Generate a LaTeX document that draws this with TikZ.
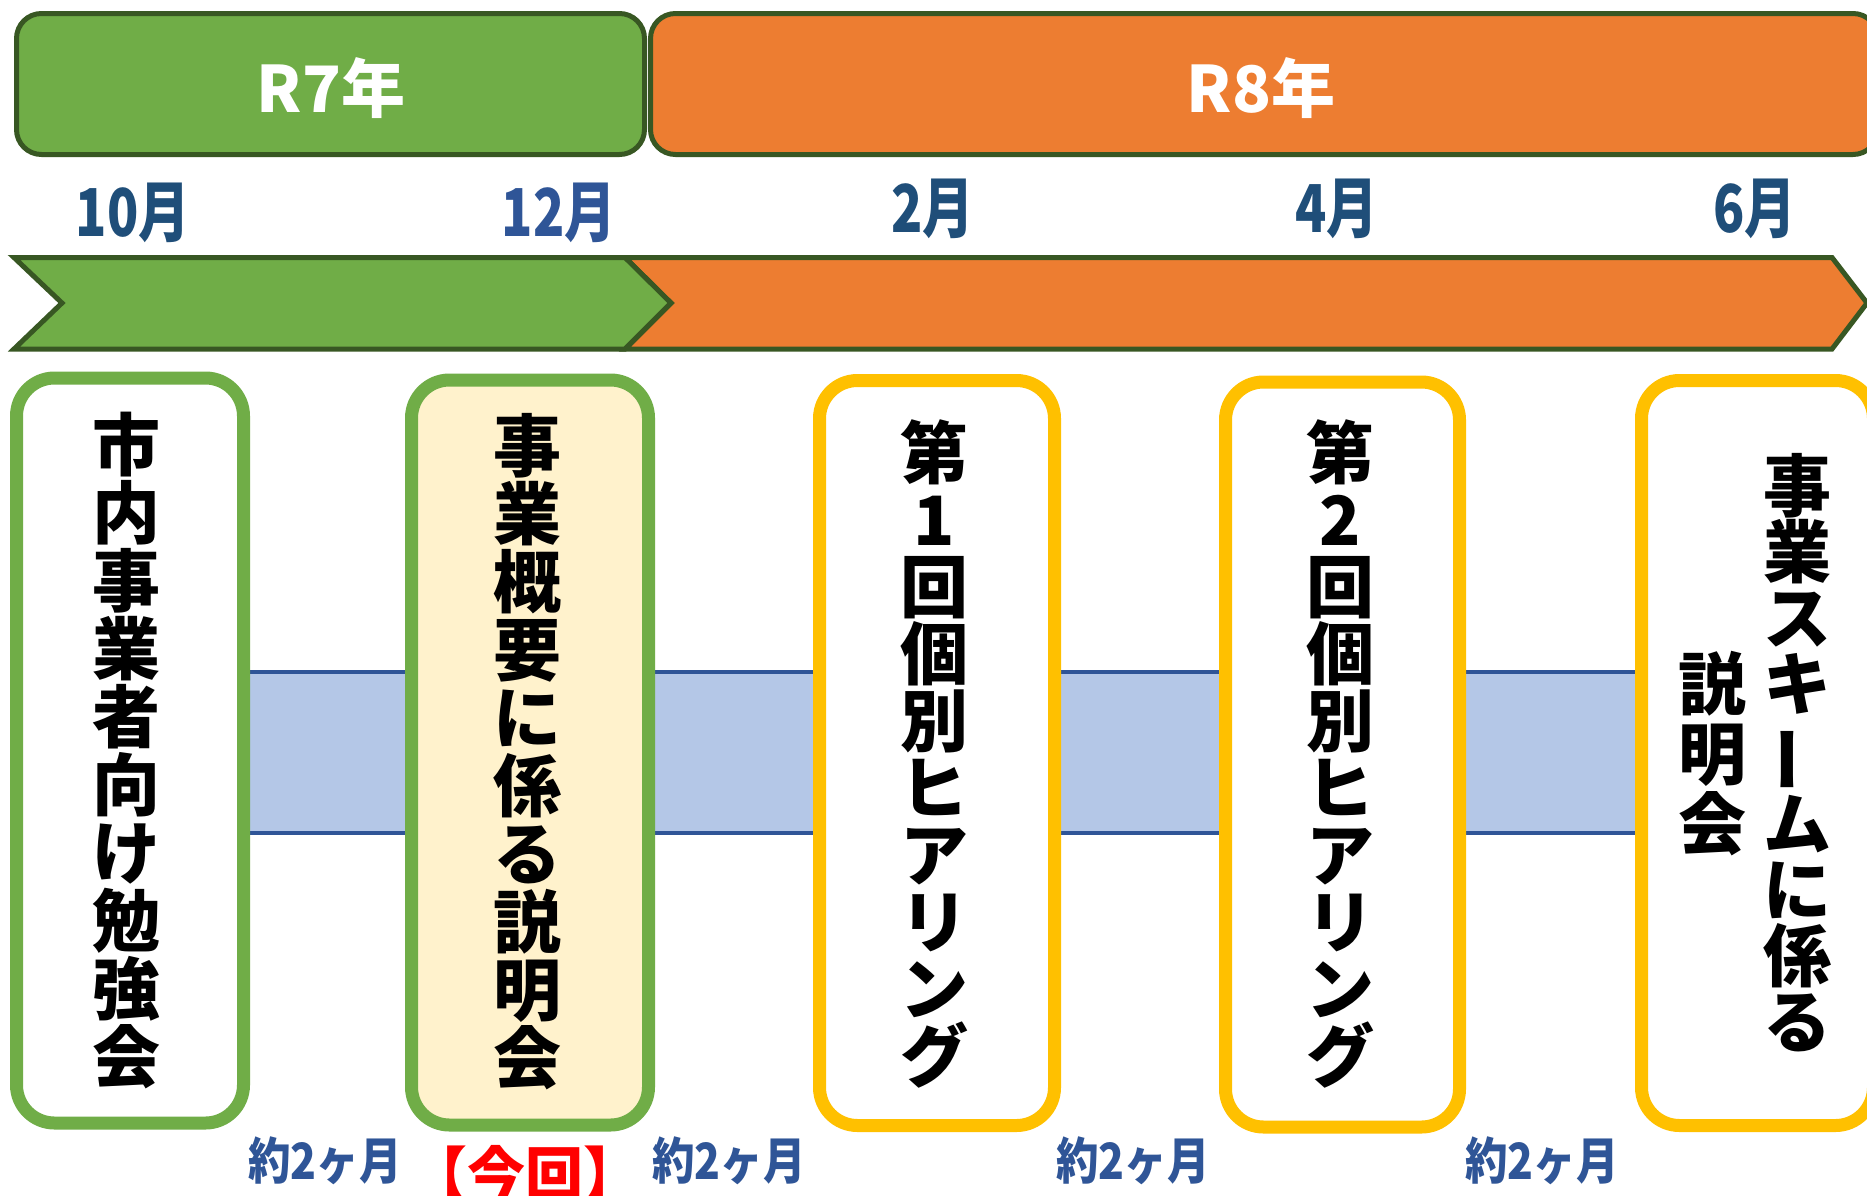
\documentclass[tikz,border=0pt]{standalone}
\usepackage{fontspec}
\usepackage{graphicx}
\setmainfont{Noto Sans CJK JP}
\newfontfamily\jpn{Noto Sans CJK JP}[FakeStretch=0.78]
\newfontfamily\jpg{Noto Sans CJK JP}[FakeStretch=0.85]
\definecolor{dkgreen}{HTML}{385723}
\definecolor{grn}{HTML}{70AD47}
\definecolor{orng}{HTML}{ED7D31}
\definecolor{ylw}{HTML}{FFC000}
\definecolor{cream}{HTML}{FFF2CC}
\definecolor{bandfill}{HTML}{B4C7E7}
\definecolor{midblue}{HTML}{2F5597}
\definecolor{navy}{HTML}{1F4E79}
\newcommand{\vbar}{\rotatebox[origin=c]{90}{ー}}
\begin{document}
\begin{tikzpicture}[x=0.5pt,y=-0.5pt,
  yearbar/.style={draw=dkgreen,line width=2.5pt,rounded corners=12.5pt,inner sep=0pt,minimum height=70.5pt},
  yeartext/.style={text=white,font=\bfseries\fontsize{32}{32}\selectfont,inner sep=0pt},
  chev/.style={draw=dkgreen,line width=2.5pt,line join=miter},
  evbox/.style={rectangle,rounded corners=19pt,line width=6.5pt,fill=white,minimum height=372.5pt,inner sep=0pt},
  vtext/.style={font=\bfseries\fontsize{34}{34}\selectfont,align=center,inner sep=0pt},
  month/.style={font=\jpn\bfseries\fontsize{33}{33}\selectfont,inner sep=0pt},
  gaplabel/.style={font=\jpg\bfseries\fontsize{25}{25}\selectfont,text=midblue,inner sep=0pt},
  nowlabel/.style={font=\bfseries\fontsize{29}{29}\selectfont,text=red,inner sep=0pt}]
\useasboundingbox (0,0) rectangle (1867,1195);
\clip (0,0) rectangle (1867,1195);
\fill[white] (0,0) rectangle (1867,1195);
% year bars
\node[yearbar,fill=grn,minimum width=314pt] (r7bar) at (330.5,84) {};
\node[yearbar,fill=orng,minimum width=613.75pt] (r8bar) at (1264.25,84) {};
\node[yeartext] (r7) at (331,88) {R7年};
\node[yeartext] (r8) at (1261,88) {R8年};
% months
\node[month,text=navy] (m10) at (133,212.5) {10月};
\node[month,text=midblue] (m12) at (559,212.5) {12月};
\node[month,text=navy] (m2) at (933,209) {2月};
\node[month,text=navy] (m4) at (1337,209) {4月};
\node[month,text=navy] (m6) at (1755,209) {6月};
% chevrons
\draw[chev,fill=orng] (625,257.5) -- (1832,257.5) -- (1867,303) -- (1832,349) -- (625,349) -- (671,303) -- cycle;
\draw[chev,fill=grn] (14,257.5) -- (625,257.5) -- (671,303) -- (625,349) -- (14,349) -- (62,303) -- cycle;
% band
\fill[bandfill] (130,672) rectangle (1757,833);
\draw[midblue,line width=2pt] (130,672) -- (1757,672);
\draw[midblue,line width=2pt] (130,833) -- (1757,833);
% boxes
\node[evbox,draw=grn,minimum width=113.5pt] (b1) at (130,750.5) {};
\node[evbox,draw=grn,fill=cream,minimum width=118.5pt] (b2) at (530,752.5) {};
\node[evbox,draw=ylw,minimum width=117.5pt] (b3) at (937,753) {};
\node[evbox,draw=ylw,minimum width=117pt] (b4) at (1342.5,754.5) {};
\node[evbox,draw=ylw,minimum width=116pt] (b5) at (1757.5,753) {};
% box texts
\node[vtext] (t1) at (126,751) {市\\内\\事\\業\\者\\向\\け\\勉\\強\\会};
\node[vtext] (t2) at (527,752) {事\\業\\概\\要\\に\\係\\る\\説\\明\\会};
\node[vtext,font=\bfseries\fontsize{34}{33.5}\selectfont] (t3) at (934,754) {第\\1\\回\\個\\別\\ヒ\\ア\\リ\\ン\\グ};
\node[vtext,font=\bfseries\fontsize{34}{33.5}\selectfont] (t4) at (1340,754) {第\\2\\回\\個\\別\\ヒ\\ア\\リ\\ン\\グ};
\node[vtext,font=\bfseries\fontsize{34}{33}\selectfont] (t5a) at (1797,753) {事\\業\\ス\\キ\\\vbar\\ム\\に\\係\\る};
\node[vtext,font=\bfseries\fontsize{34}{35}\selectfont] (t5b) at (1712,754) {説\\明\\会};
% bottom labels
\node[gaplabel] (g1) at (325,1161) {約2ヶ月};
\node[nowlabel] (now) at (525,1173) {【今回】};
\node[gaplabel] (g2) at (729,1161) {約2ヶ月};
\node[gaplabel] (g3) at (1133,1161) {約2ヶ月};
\node[gaplabel] (g4) at (1542,1161) {約2ヶ月};
\end{tikzpicture}
\end{document}
